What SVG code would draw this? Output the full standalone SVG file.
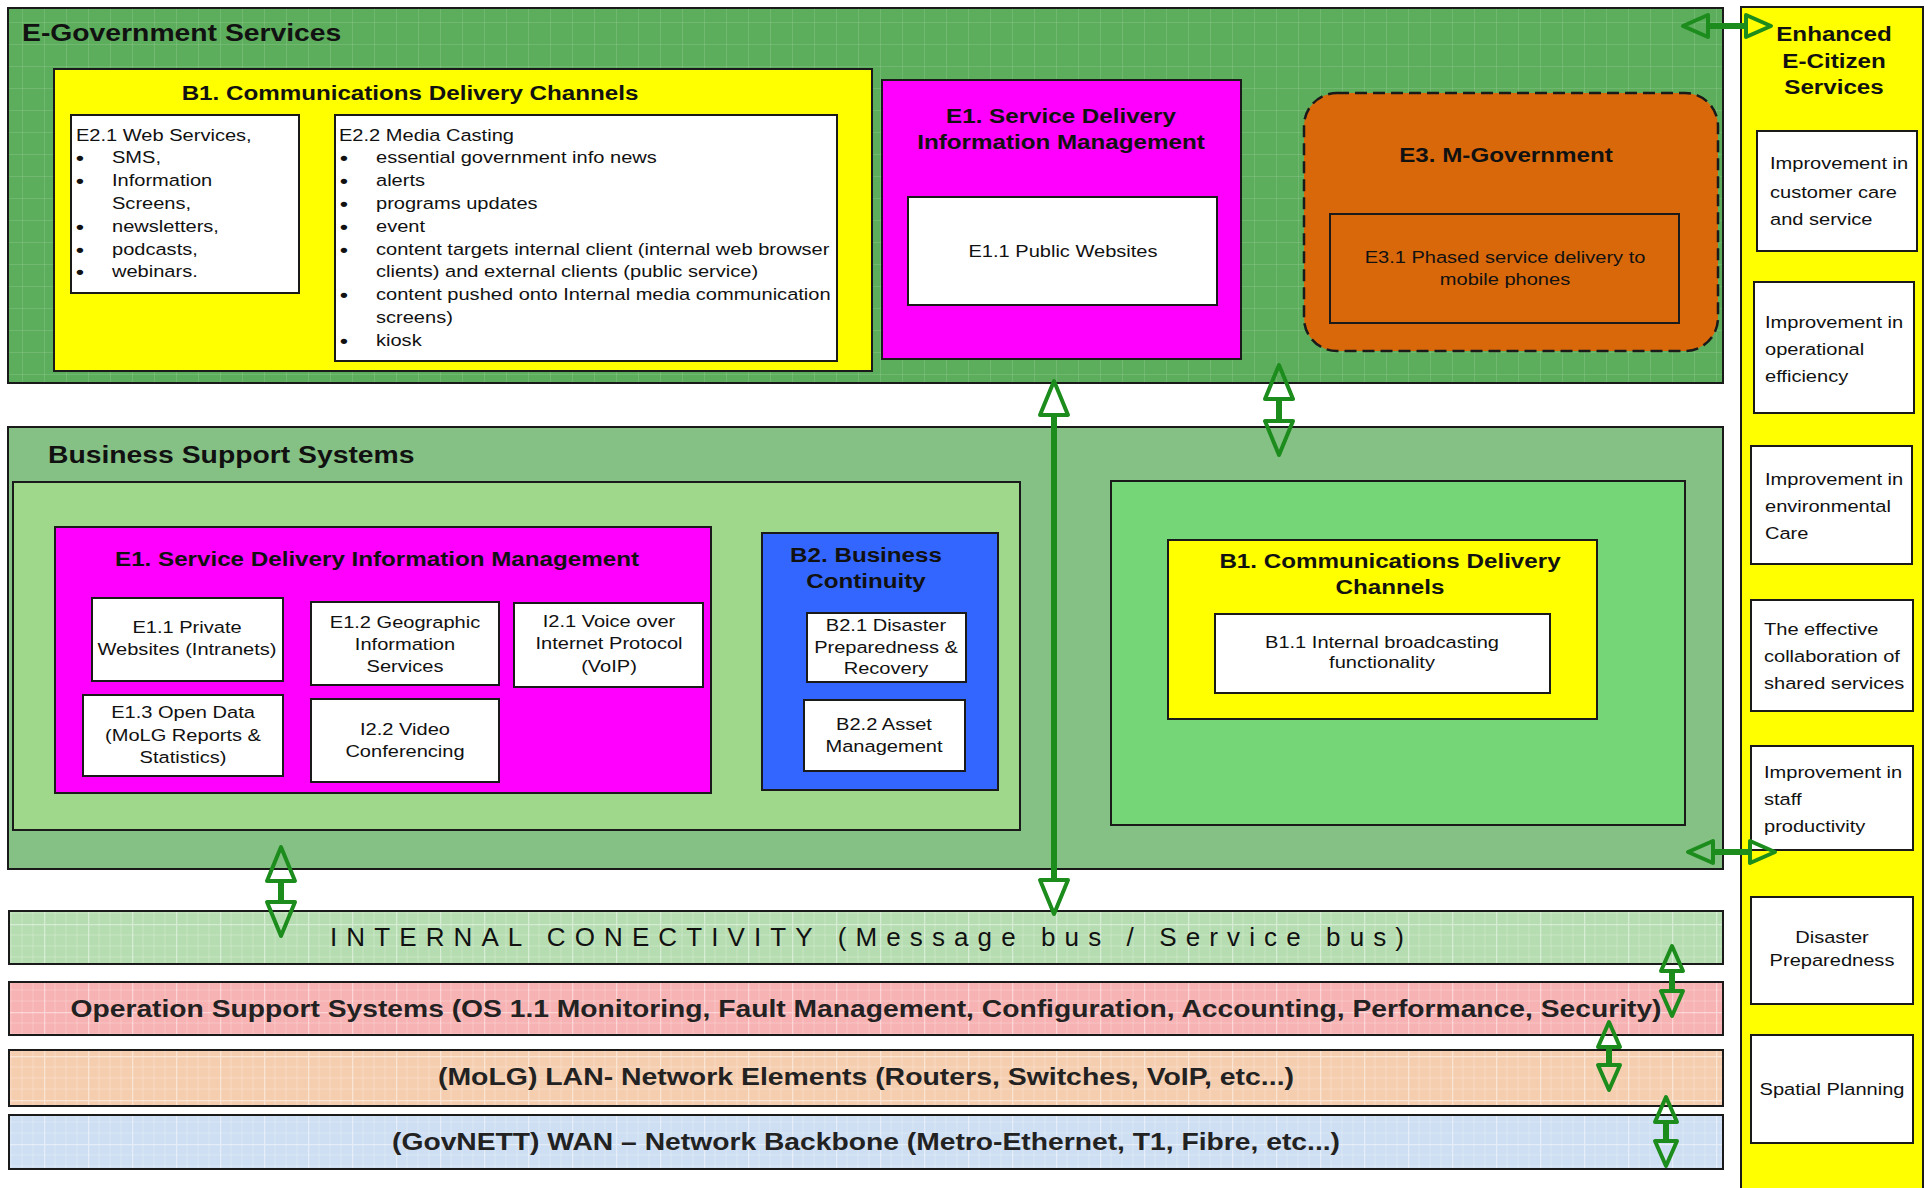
<svg xmlns="http://www.w3.org/2000/svg" width="1931" height="1188" viewBox="0 0 1931 1188">
<defs>
<style>
.t{font-family:"Liberation Sans",Arial,sans-serif;fill:#111}
.r{font-size:17px}
.m{text-anchor:middle}
.bl{font-size:19px;font-weight:bold}
.b20{font-size:20.5px;font-weight:bold}
.b24{font-size:24px;font-weight:bold}
.bar{font-size:24px;font-weight:bold;fill:#222}
.bx{stroke:#1a1a1a;stroke-width:2}
.wb{fill:#fff;stroke:#1a1a1a;stroke-width:2}
.cn{stroke:#1c8c1c;stroke-width:6;fill:none}
.big{marker-start:url(#hb);marker-end:url(#hb)}
.sml{marker-start:url(#hs);marker-end:url(#hs)}
</style>
<pattern id="grid" width="44" height="44" patternUnits="userSpaceOnUse">
<path d="M0 11H44M0 22H44M0 33H44M11 0V44M22 0V44M33 0V44" stroke="#fff" stroke-opacity=".22" stroke-width="1"/>
<path d="M0 0.5H44M0.5 0V44" stroke="#fff" stroke-opacity=".45" stroke-width="1.5"/>
</pattern>
<pattern id="fgrid" width="22" height="22" patternUnits="userSpaceOnUse">
<path d="M0 0.5H22M0.5 0V22" stroke="#fff" stroke-opacity=".12" stroke-width="1"/>
</pattern>
<marker id="hb" markerUnits="userSpaceOnUse" markerWidth="40" markerHeight="34" viewBox="0 0 40 34" refX="2" refY="17" orient="auto-start-reverse" overflow="visible">
<path d="M2,3 L36,17 L2,31 Z" fill="none" stroke="#1c8c1c" stroke-width="4" stroke-linejoin="round"/>
</marker>
<marker id="hs" markerUnits="userSpaceOnUse" markerWidth="30" markerHeight="26" viewBox="0 0 30 26" refX="2" refY="13" orient="auto-start-reverse" overflow="visible">
<path d="M2,2 L27,13 L2,24 Z" fill="none" stroke="#1c8c1c" stroke-width="4" stroke-linejoin="round"/>
</marker>
</defs>
<rect width="1931" height="1188" fill="#fff"/>

<!-- E-Government Services -->
<g id="egov">
<rect x="8" y="8" width="1715" height="375" fill="#5CAD5C" class="bx"/>
<rect x="9" y="9" width="1713" height="373" fill="url(#fgrid)"/>
<text class="t b24" transform="translate(22,41) scale(1.18,1)">E-Government Services</text>
</g>

<g id="egov-b1">
<rect x="54" y="69" width="818" height="302" fill="#FFFF00" class="bx"/>
<text class="t b20 m" transform="translate(410,100) scale(1.18,1)">B1. Communications Delivery Channels</text>
</g>

<g id="e21">
<rect x="71" y="115" width="228" height="178" class="wb"/>
<text class="t r" transform="translate(76,141) scale(1.18,1)">E2.1 Web Services,</text>
<text class="t bl" transform="translate(76,1) scale(1.18,1)"><tspan x="0" y="163">•</tspan><tspan x="0" y="186">•</tspan><tspan x="0" y="232">•</tspan><tspan x="0" y="255">•</tspan><tspan x="0" y="277">•</tspan></text>
<text class="t r" transform="translate(112,0) scale(1.18,1)"><tspan x="0" y="163">SMS,</tspan><tspan x="0" y="186">Information</tspan><tspan x="0" y="209">Screens,</tspan><tspan x="0" y="232">newsletters,</tspan><tspan x="0" y="255">podcasts,</tspan><tspan x="0" y="277">webinars.</tspan></text>
</g>

<g id="e22">
<rect x="335" y="115" width="502" height="246" class="wb"/>
<text class="t r" transform="translate(339,141) scale(1.18,1)">E2.2 Media Casting</text>
<text class="t bl" transform="translate(340,1) scale(1.18,1)"><tspan x="0" y="163">•</tspan><tspan x="0" y="186">•</tspan><tspan x="0" y="209">•</tspan><tspan x="0" y="232">•</tspan><tspan x="0" y="255">•</tspan><tspan x="0" y="300">•</tspan><tspan x="0" y="346">•</tspan></text>
<text class="t r" transform="translate(376,0) scale(1.18,1)"><tspan x="0" y="163">essential government info news</tspan><tspan x="0" y="186">alerts</tspan><tspan x="0" y="209">programs updates</tspan><tspan x="0" y="232">event</tspan><tspan x="0" y="255">content targets internal client (internal web browser</tspan><tspan x="0" y="277">clients) and external clients (public service)</tspan><tspan x="0" y="300">content pushed onto Internal media communication</tspan><tspan x="0" y="323">screens)</tspan><tspan x="0" y="346">kiosk</tspan></text>
</g>

<g id="egov-e1">
<rect x="882" y="80" width="359" height="279" fill="#FF00FF" class="bx"/>
<text class="t b20 m" transform="translate(1061,0) scale(1.18,1)"><tspan x="0" y="123">E1. Service Delivery</tspan><tspan x="0" y="149">Information Management</tspan></text>
</g>
<g id="e11-public">
<rect x="908" y="197" width="309" height="108" class="wb"/>
<text class="t r m" transform="translate(1063,257) scale(1.18,1)">E1.1 Public Websites</text>
</g>

<g id="e3">
<rect x="1304" y="93" width="414" height="258" rx="33" fill="#D9680B" stroke="#1a1a1a" stroke-width="2.5" stroke-dasharray="12 6"/>
<text class="t b20 m" transform="translate(1506,162) scale(1.18,1)">E3. M-Government</text>
</g>
<g id="e31">
<rect x="1330" y="214" width="349" height="109" fill="#D9680B" class="bx"/>
<text class="t r m" transform="translate(1505,0) scale(1.18,1)"><tspan x="0" y="263">E3.1 Phased service delivery to</tspan><tspan x="0" y="285">mobile phones</tspan></text>
</g>

<!-- Business Support Systems -->
<g id="bss">
<rect x="8" y="427" width="1715" height="442" fill="#85C185" class="bx"/>
<text class="t b24" transform="translate(48,463) scale(1.18,1)">Business Support Systems</text>
</g>
<g id="bss-left">
<rect x="13" y="482" width="1007" height="348" fill="#9FD88A" class="bx"/>
</g>
<g id="bss-e1">
<rect x="55" y="527" width="656" height="266" fill="#FF00FF" class="bx"/>
<text class="t b20 m" transform="translate(377,566) scale(1.18,1)">E1. Service Delivery Information Management</text>
</g>
<g id="e11-private">
<rect x="92" y="598" width="191" height="83" class="wb"/>
<text class="t r m" transform="translate(187,0) scale(1.18,1)"><tspan x="0" y="633">E1.1 Private</tspan><tspan x="0" y="655">Websites (Intranets)</tspan></text>
</g>
<g id="e12">
<rect x="311" y="602" width="188" height="83" class="wb"/>
<text class="t r m" transform="translate(405,0) scale(1.18,1)"><tspan x="0" y="628">E1.2 Geographic</tspan><tspan x="0" y="650">Information</tspan><tspan x="0" y="672">Services</tspan></text>
</g>
<g id="i21">
<rect x="514" y="603" width="189" height="84" class="wb"/>
<text class="t r m" transform="translate(609,0) scale(1.18,1)"><tspan x="0" y="627">I2.1 Voice over</tspan><tspan x="0" y="649">Internet Protocol</tspan><tspan x="0" y="672">(VoIP)</tspan></text>
</g>
<g id="e13">
<rect x="83" y="695" width="200" height="81" class="wb"/>
<text class="t r m" transform="translate(183,0) scale(1.18,1)"><tspan x="0" y="718">E1.3 Open Data</tspan><tspan x="0" y="741">(MoLG Reports &amp;</tspan><tspan x="0" y="763">Statistics)</tspan></text>
</g>
<g id="i22">
<rect x="311" y="699" width="188" height="83" class="wb"/>
<text class="t r m" transform="translate(405,0) scale(1.18,1)"><tspan x="0" y="735">I2.2 Video</tspan><tspan x="0" y="757">Conferencing</tspan></text>
</g>
<g id="b2">
<rect x="762" y="533" width="236" height="257" fill="#3366FF" class="bx"/>
<text class="t b20 m" transform="translate(866,0) scale(1.18,1)"><tspan x="0" y="562">B2. Business</tspan><tspan x="0" y="588">Continuity</tspan></text>
</g>
<g id="b21">
<rect x="807" y="613" width="159" height="69" class="wb"/>
<text class="t r m" transform="translate(886,0) scale(1.18,1)"><tspan x="0" y="631">B2.1 Disaster</tspan><tspan x="0" y="653">Preparedness &amp;</tspan><tspan x="0" y="674">Recovery</tspan></text>
</g>
<g id="b22">
<rect x="804" y="700" width="161" height="71" class="wb"/>
<text class="t r m" transform="translate(884,0) scale(1.18,1)"><tspan x="0" y="730">B2.2 Asset</tspan><tspan x="0" y="752">Management</tspan></text>
</g>
<g id="bss-right">
<rect x="1111" y="481" width="574" height="344" fill="#74D677" class="bx"/>
</g>
<g id="bss-b1">
<rect x="1168" y="540" width="429" height="179" fill="#FFFF00" class="bx"/>
<text class="t b20 m" transform="translate(1390,0) scale(1.18,1)"><tspan x="0" y="568">B1. Communications Delivery</tspan><tspan x="0" y="594">Channels</tspan></text>
</g>
<g id="b11">
<rect x="1215" y="614" width="335" height="79" class="wb"/>
<text class="t r m" transform="translate(1382,0) scale(1.18,1)"><tspan x="0" y="648">B1.1 Internal broadcasting</tspan><tspan x="0" y="668">functionality</tspan></text>
</g>

<!-- Layer bars -->
<g id="internal">
<rect x="9" y="911" width="1714" height="53" fill="#B6DDB1" class="bx"/>
<rect x="10" y="912" width="1712" height="51" fill="url(#grid)"/>
<text class="t m" x="867" y="946" font-size="26" fill="#33331f" textLength="1074" lengthAdjust="spacing">INTERNAL CONECTIVITY (Message bus / Service bus)</text>
</g>
<g id="oss">
<rect x="9" y="982" width="1714" height="53" fill="#F7B3B3" class="bx"/>
<rect x="10" y="983" width="1712" height="51" fill="url(#grid)"/>
<text class="t bar m" x="866" y="1017" font-size="25" textLength="1591" lengthAdjust="spacingAndGlyphs">Operation Support Systems (OS 1.1 Monitoring, Fault Management, Configuration, Accounting, Performance, Security)</text>
</g>
<g id="lan">
<rect x="9" y="1050" width="1714" height="56" fill="#F5CEB0" class="bx"/>
<rect x="10" y="1051" width="1712" height="54" fill="url(#grid)"/>
<text class="t bar m" x="866" y="1085" textLength="856" lengthAdjust="spacingAndGlyphs">(MoLG) LAN- Network Elements (Routers, Switches, VoIP, etc...)</text>
</g>
<g id="wan">
<rect x="9" y="1115" width="1714" height="54" fill="#CFDFF3" class="bx"/>
<rect x="10" y="1116" width="1712" height="52" fill="url(#grid)"/>
<text class="t bar m" x="866" y="1150" textLength="948" lengthAdjust="spacingAndGlyphs">(GovNETT) WAN – Network Backbone (Metro-Ethernet, T1, Fibre, etc...)</text>
</g>

<!-- Enhanced E-Citizen Services -->
<g id="ecitizen">
<rect x="1741" y="7" width="182" height="1190" fill="#FFFF00" class="bx"/>
<text class="t b20 m" transform="translate(1834,0) scale(1.18,1)"><tspan x="0" y="41">Enhanced</tspan><tspan x="0" y="68">E-Citizen</tspan><tspan x="0" y="94">Services</tspan></text>
</g>
<g id="ec1">
<rect x="1757" y="131" width="160" height="120" class="wb"/>
<text class="t r" transform="translate(1770,0) scale(1.18,1)"><tspan x="0" y="169">Improvement in</tspan><tspan x="0" y="198">customer care</tspan><tspan x="0" y="225">and service</tspan></text>
</g>
<g id="ec2">
<rect x="1754" y="282" width="160" height="131" class="wb"/>
<text class="t r" transform="translate(1765,0) scale(1.18,1)"><tspan x="0" y="328">Improvement in</tspan><tspan x="0" y="355">operational</tspan><tspan x="0" y="382">efficiency</tspan></text>
</g>
<g id="ec3">
<rect x="1751" y="446" width="161" height="118" class="wb"/>
<text class="t r" transform="translate(1765,0) scale(1.18,1)"><tspan x="0" y="485">Improvement in</tspan><tspan x="0" y="512">environmental</tspan><tspan x="0" y="539">Care</tspan></text>
</g>
<g id="ec4">
<rect x="1751" y="600" width="162" height="111" class="wb"/>
<text class="t r" transform="translate(1764,0) scale(1.18,1)"><tspan x="0" y="635">The effective</tspan><tspan x="0" y="662">collaboration of</tspan><tspan x="0" y="689">shared services</tspan></text>
</g>
<g id="ec5">
<rect x="1751" y="746" width="162" height="104" class="wb"/>
<text class="t r" transform="translate(1764,0) scale(1.18,1)"><tspan x="0" y="778">Improvement in</tspan><tspan x="0" y="805">staff</tspan><tspan x="0" y="832">productivity</tspan></text>
</g>
<g id="ec6">
<rect x="1751" y="897" width="162" height="107" class="wb"/>
<text class="t r m" transform="translate(1832,0) scale(1.18,1)"><tspan x="0" y="943">Disaster</tspan><tspan x="0" y="966">Preparedness</tspan></text>
</g>
<g id="ec7">
<rect x="1751" y="1035" width="162" height="108" class="wb"/>
<text class="t r m" transform="translate(1832,1095) scale(1.18,1)">Spatial Planning</text>
</g>

<!-- Connectors -->
<g id="connectors">
<line class="cn big" x1="1054" y1="415" x2="1054" y2="880"/>
<line class="cn big" x1="1279" y1="399" x2="1279" y2="421"/>
<line class="cn big" x1="281" y1="881" x2="281" y2="902"/>
<line class="cn sml" x1="1708" y1="26" x2="1746" y2="26"/>
<line class="cn sml" x1="1713" y1="852" x2="1750" y2="852"/>
<line class="cn sml" x1="1672" y1="971" x2="1672" y2="991"/>
<line class="cn sml" x1="1609" y1="1047" x2="1609" y2="1065"/>
<line class="cn sml" x1="1666" y1="1122" x2="1666" y2="1141"/>
</g>
</svg>
